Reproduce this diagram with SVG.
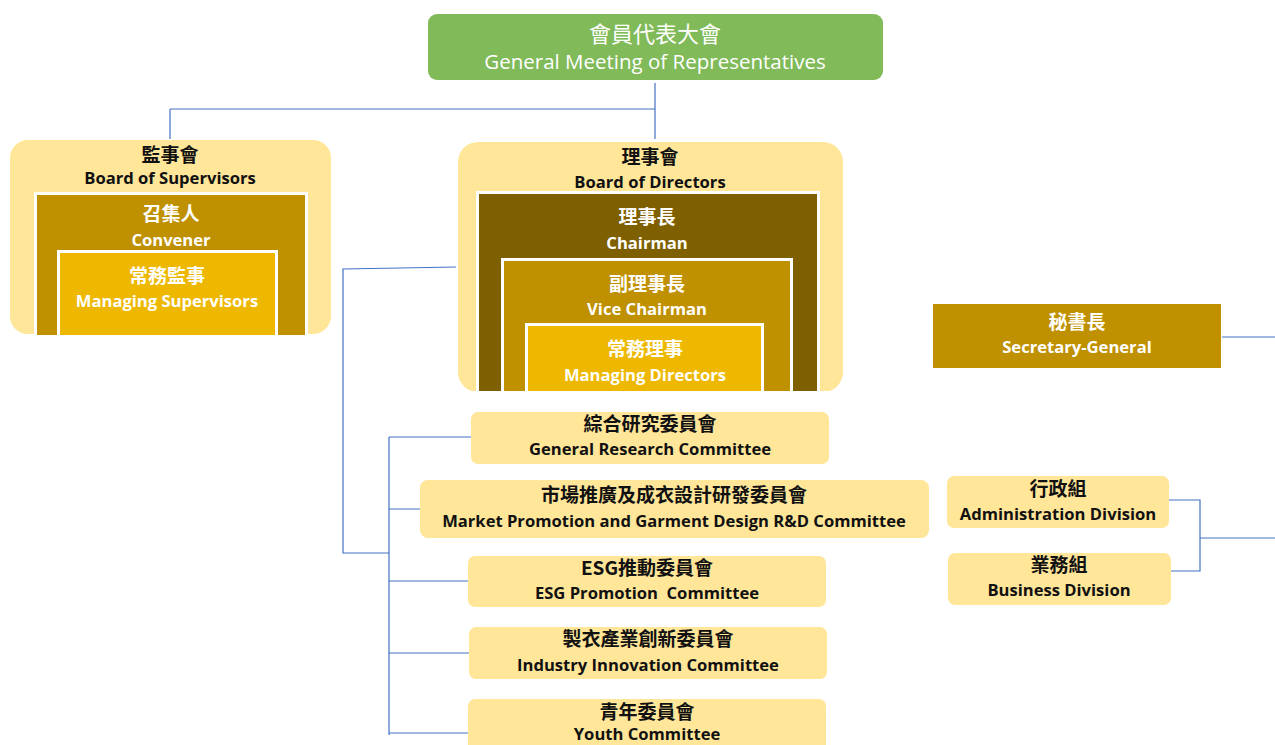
<svg xmlns="http://www.w3.org/2000/svg" width="1275" height="745" viewBox="0 0 1275 745">
<style>
.zh{font-family:"Noto Sans CJK TC","Noto Sans CJK SC",sans-serif;font-size:19px;font-weight:bold;text-anchor:middle}
.en{font-family:"Open Sans","Noto Sans",sans-serif;font-size:16.6px;font-weight:bold;text-anchor:middle;white-space:pre}
.dk{fill:#111}
.wt{fill:#fff}
.lt{fill:#FFE699}
.ln{fill:none;stroke:#4472C4;stroke-width:1.2}
.frame{stroke:#fff;stroke-width:3}
</style>
<rect width="1275" height="745" fill="#fff"/>
<g id="connectors">
<path class="ln" d="M655,83 V139 M170,109 H655 M170,109 V139"/>
<path class="ln" d="M456,267 L343,269 V553 H389"/>
<path class="ln" d="M389,437 V735 M389,437 H471 M389,509 H420 M389,581 H468 M389,653 H469 M389,733 H468"/>
<path class="ln" d="M1222,337 H1275"/>
<path class="ln" d="M1169,500 H1200 V571 H1171 M1200,538 H1275"/>
</g>
<g id="general-meeting">
<rect x="428" y="14" width="455" height="66" rx="9" fill="#80BA59"/>
<text class="zh wt" x="655" y="42" style="font-weight:normal;font-size:22px">會員代表大會</text>
<text class="en wt" x="655" y="69" style="font-weight:normal;font-size:20.5px">General Meeting of Representatives</text>
</g>
<g id="board-supervisors">
<rect class="lt" x="10" y="140" width="321" height="194" rx="18"/>
<text class="zh dk" x="170" y="162">監事會</text>
<text class="en dk" x="170" y="184">Board of Supervisors</text>
<rect class="frame" x="35.5" y="193.5" width="271" height="145" fill="#BF9000"/>
<text class="zh wt" x="171" y="221">召集人</text>
<text class="en wt" x="171" y="246">Convener</text>
<rect class="frame" x="58.5" y="251.5" width="218" height="90" fill="#EEB800"/>
<text class="zh wt" x="167" y="283">常務監事</text>
<text class="en wt" x="167" y="307">Managing Supervisors</text>
<rect x="0" y="335" width="340" height="10" fill="#fff"/>
</g>
<g id="board-directors">
<rect class="lt" x="458" y="142" width="385" height="250" rx="20"/>
<text class="zh dk" x="650" y="164">理事會</text>
<text class="en dk" x="650" y="188">Board of Directors</text>
<rect class="frame" x="477.5" y="192.5" width="341" height="205" fill="#7F6000"/>
<text class="zh wt" x="647" y="224">理事長</text>
<text class="en wt" x="647" y="249">Chairman</text>
<rect class="frame" x="502.5" y="259.5" width="289" height="140" fill="#BF9000"/>
<text class="zh wt" x="647" y="291">副理事長</text>
<text class="en wt" x="647" y="315">Vice Chairman</text>
<rect class="frame" x="526.5" y="324.5" width="236" height="75" fill="#EEB800"/>
<text class="zh wt" x="645" y="356">常務理事</text>
<text class="en wt" x="645" y="381">Managing Directors</text>
<rect x="470" y="391" width="360" height="10" fill="#fff"/>
</g>
<g id="secretary-general">
<rect x="933" y="304" width="288" height="64" fill="#BF9000"/>
<text class="zh wt" x="1077" y="329">秘書長</text>
<text class="en wt" x="1077" y="353">Secretary-General</text>
</g>
<g id="general-research">
<rect class="lt" x="471" y="412" width="358" height="52" rx="7"/>
<text class="zh dk" x="650" y="431">綜合研究委員會</text>
<text class="en dk" x="650" y="455">General Research Committee</text>
</g>
<g id="market-promotion">
<rect class="lt" x="420" y="480" width="509" height="58" rx="8"/>
<text class="zh dk" x="674" y="502">市場推廣及成衣設計研發委員會</text>
<text class="en dk" x="674" y="527">Market Promotion and Garment Design R&amp;D Committee</text>
</g>
<g id="esg">
<rect class="lt" x="468" y="556" width="358" height="51" rx="7"/>
<text class="zh dk" x="647" y="575">ESG推動委員會</text>
<text class="en dk" x="647" y="599">ESG Promotion  Committee</text>
</g>
<g id="industry-innovation">
<rect class="lt" x="469" y="627" width="358" height="52" rx="7"/>
<text class="zh dk" x="648" y="646">製衣產業創新委員會</text>
<text class="en dk" x="648" y="671">Industry Innovation Committee</text>
</g>
<g id="youth">
<rect class="lt" x="468" y="699" width="358" height="56" rx="7"/>
<text class="zh dk" x="647" y="719">青年委員會</text>
<text class="en dk" x="647" y="740">Youth Committee</text>
</g>
<g id="administration">
<rect class="lt" x="947" y="476" width="222" height="52" rx="7"/>
<text class="zh dk" x="1058" y="496">行政組</text>
<text class="en dk" x="1058" y="520">Administration Division</text>
</g>
<g id="business">
<rect class="lt" x="948" y="553" width="223" height="52" rx="7"/>
<text class="zh dk" x="1059" y="572">業務組</text>
<text class="en dk" x="1059" y="596">Business Division</text>
</g>
</svg>
